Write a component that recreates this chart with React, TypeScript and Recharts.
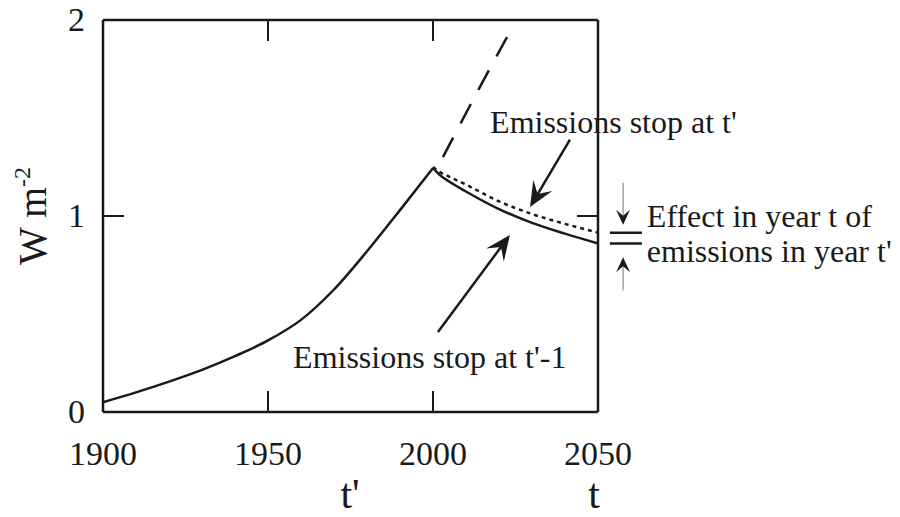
import React from "react"
import {
  LineChart, Line, XAxis, YAxis, ReferenceLine, ReferenceDot,
} from "recharts"

// emissions continue up to year 2000
const riseYears = [1900, 1910, 1920, 1930, 1940, 1950, 1960, 1970, 1980, 1990, 2000]
const riseValues = [0.05, 0.1, 0.155, 0.215, 0.285, 0.365, 0.47, 0.625, 0.82, 1.03, 1.245]

// emissions keep going (dashed)
const goOnYears = [2003, 2013, 2023]
const goOnValues = [1.3, 1.62, 1.93]

// after the stop
const decayYears = [2000, 2002, 2005, 2010, 2020, 2030, 2040, 2050]
const stopPrevValues = [1.245, 1.21, 1.175, 1.125, 1.035, 0.965, 0.91, 0.86] // stop at t'-1 (solid)
const stopNowValues = [1.25, 1.225, 1.2, 1.16, 1.075, 1.01, 0.96, 0.915] // stop at t' (dotted)

const xTicks = [1900, 1950, 2000, 2050]
const yTicks = [0, 1, 2]
const innerXTicks = [1950, 2000]
const innerYTicks = [1]

const SERIF = '"Liberation Serif", "Times New Roman", "DejaVu Serif", serif'
const INK = "#1a1a1a"
const W = 900
const H = 517
const PLOT_LEFT = 103
const PLOT_TOP = 20
const PLOT_RIGHT = 598
const PLOT_BOTTOM = 412
const TICK_LEN = 21

const rise = riseYears.map((year, i) => ({ year, v: riseValues[i] }))
const goOn = goOnYears.map((year, i) => ({ year, v: goOnValues[i] }))
const stopPrev = decayYears.map((year, i) => ({ year, v: stopPrevValues[i] }))
const stopNow = decayYears.map((year, i) => ({ year, v: stopNowValues[i] }))

const font = (size: number) => ({ fontFamily: SERIF, fontSize: size })

const XTick = (props: any) => {
  const { x, payload } = props
  const inner = innerXTicks.includes(payload.value)
  return (
    <g>
      <text x={x} y={PLOT_BOTTOM + 53} textAnchor="middle" style={font(34)} fill={INK}>
        {payload.value}
      </text>
      {inner && (
        <>
          <line x1={x} x2={x} y1={PLOT_BOTTOM} y2={PLOT_BOTTOM - TICK_LEN} stroke={INK} strokeWidth={2} />
          <line x1={x} x2={x} y1={PLOT_TOP} y2={PLOT_TOP + TICK_LEN} stroke={INK} strokeWidth={2} />
        </>
      )}
    </g>
  )
}

const YTick = (props: any) => {
  const { y, payload } = props
  const inner = innerYTicks.includes(payload.value)
  return (
    <g>
      <text x={PLOT_LEFT - 18} y={y + 11} textAnchor="end" style={font(34)} fill={INK}>
        {payload.value}
      </text>
      {inner && (
        <>
          <line x1={PLOT_LEFT} x2={PLOT_LEFT + TICK_LEN} y1={y} y2={y} stroke={INK} strokeWidth={2} />
          <line x1={PLOT_RIGHT} x2={PLOT_RIGHT - TICK_LEN} y1={y} y2={y} stroke={INK} strokeWidth={2} />
        </>
      )}
    </g>
  )
}

// line with a notched, filled arrow head at (x2, y2)
const arrow = (head: number, half: number, width: number, color: string) => (p: any) => {
  const { x1, y1, x2, y2 } = p
  const dx = x2 - x1
  const dy = y2 - y1
  const len = Math.hypot(dx, dy) || 1
  const ux = dx / len
  const uy = dy / len
  const nx = -uy
  const ny = ux
  const bx = x2 - ux * head
  const by = y2 - uy * head
  const mx = x2 - ux * head * 0.6
  const my = y2 - uy * head * 0.6
  const pts = [
    [x2, y2],
    [bx + nx * half, by + ny * half],
    [mx, my],
    [bx - nx * half, by - ny * half],
  ].map((q) => q.join(",")).join(" ")
  return (
    <g>
      <line x1={x1} y1={y1} x2={mx} y2={my} stroke={color} strokeWidth={width} />
      <polygon points={pts} fill={INK} />
    </g>
  )
}

const bar = (p: any) => <line x1={p.x1} y1={p.y1} x2={p.x2} y2={p.y2} stroke={INK} strokeWidth={2.5} />

const textAt = (str: string, size = 32) => (p: any) => (
  <text x={p.cx} y={p.cy} style={font(size)} fill={INK}>{str}</text>
)

const yLabel = (props: any) => {
  const vb = props.viewBox
  const cx = vb.x + 46
  const cy = vb.y + vb.height / 2
  return (
    <text x={cx} y={cy} transform={`rotate(-90 ${cx} ${cy})`} textAnchor="middle"
      style={font(40)} fill={INK}>
      W m<tspan style={{ fontSize: 24 }} dy={-16}>-2</tspan>
    </text>
  )
}

const xLabel = (props: any) => {
  const vb = props.viewBox
  const baseY = vb.y + 96
  return (
    <g style={font(42)} fill={INK}>
      <text x={vb.x + 247} y={baseY} textAnchor="middle">t'</text>
      <text x={vb.x + vb.width - 4} y={baseY} textAnchor="middle">t</text>
    </g>
  )
}

const lastPrev = stopPrevValues[stopPrevValues.length - 1]
const lastNow = stopNowValues[stopNowValues.length - 1]

export default function App() {
  return (
    <div style={{ position: "absolute", left: 0, top: 0, width: W, height: H, background: "#fff" }}>
      <LineChart width={W} height={H} margin={{ top: PLOT_TOP, right: W - PLOT_RIGHT, bottom: 0, left: 0 }}>
        <XAxis
          dataKey="year" type="number" domain={[1900, 2050]} ticks={xTicks} interval={0}
          height={H - PLOT_BOTTOM} tickLine={false} tick={<XTick />}
          axisLine={{ stroke: INK, strokeWidth: 2.5 }} allowDuplicatedCategory={false}
          label={{ content: xLabel }}
        />
        <YAxis
          type="number" domain={[0, 2]} ticks={yTicks} interval={0} width={PLOT_LEFT}
          tickLine={false} tick={<YTick />} axisLine={{ stroke: INK, strokeWidth: 2.5 }}
          label={{ content: yLabel }}
        />
        <ReferenceLine y={2} stroke={INK} strokeWidth={2.5} />
        <ReferenceLine x={2050} stroke={INK} strokeWidth={2.5} />

        <Line data={rise} dataKey="v" type="monotone" stroke={INK} strokeWidth={2.5} dot={false} isAnimationActive={false} />
        <Line data={goOn} dataKey="v" type="monotone" stroke={INK} strokeWidth={2.5} strokeDasharray="22 16" dot={false} isAnimationActive={false} />
        <Line data={stopNow} dataKey="v" type="monotone" stroke={INK} strokeWidth={2.5} strokeDasharray="4 4" dot={false} isAnimationActive={false} />
        <Line data={stopPrev} dataKey="v" type="monotone" stroke={INK} strokeWidth={2.5} dot={false} isAnimationActive={false} />

        {/* annotation arrows */}
        <ReferenceLine segment={[{ x: 2041.5, y: 1.39 }, { x: 2029.4, y: 1.046 }]} ifOverflow="visible" shape={arrow(25, 11, 2.5, INK)} />
        <ReferenceLine segment={[{ x: 2001.5, y: 0.408 }, { x: 2023.3, y: 0.903 }]} ifOverflow="visible" shape={arrow(25, 11, 2.5, INK)} />

        {/* effect bracket right of the frame */}
        <ReferenceLine segment={[{ x: 2053.6, y: lastNow }, { x: 2063.3, y: lastNow }]} ifOverflow="visible" shape={bar} />
        <ReferenceLine segment={[{ x: 2053.6, y: lastPrev }, { x: 2063.3, y: lastPrev }]} ifOverflow="visible" shape={bar} />
        <ReferenceLine segment={[{ x: 2057.6, y: 1.17 }, { x: 2057.6, y: 0.955 }]} ifOverflow="visible" shape={arrow(15, 7, 1, "#777")} />
        <ReferenceLine segment={[{ x: 2057.6, y: 0.62 }, { x: 2057.6, y: 0.79 }]} ifOverflow="visible" shape={arrow(15, 7, 1, "#777")} />

        <ReferenceDot x={2017.3} y={1.423} ifOverflow="visible" shape={textAt("Emissions stop at t'")} />
        <ReferenceDot x={1957.6} y={0.224} ifOverflow="visible" shape={textAt("Emissions stop at t'-1")} />
        <ReferenceDot x={2064.8} y={0.944} ifOverflow="visible" shape={textAt("Effect in year t of")} />
        <ReferenceDot x={2064.8} y={0.765} ifOverflow="visible" shape={textAt("emissions in year t'")} />
      </LineChart>
    </div>
  )
}
